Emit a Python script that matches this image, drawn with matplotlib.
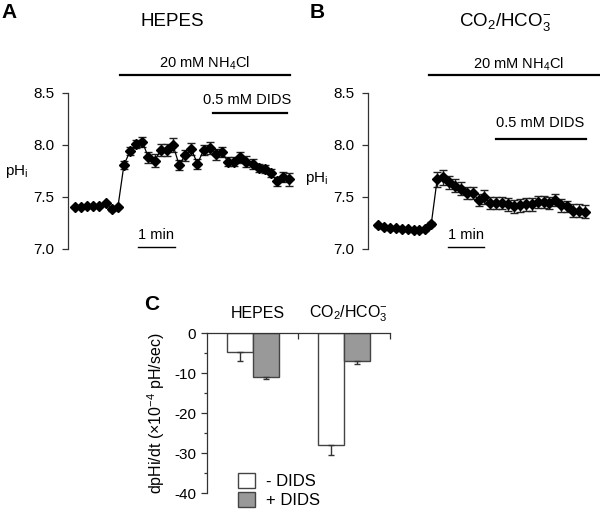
import matplotlib
matplotlib.use("Agg")
import matplotlib.pyplot as plt
from matplotlib.patches import Patch
import numpy as np

plt.rcParams['font.family'] = ['Liberation Sans', 'DejaVu Sans']
plt.rcParams['mathtext.fontset'] = 'custom'
plt.rcParams['mathtext.rm'] = 'Liberation Sans'
plt.rcParams['mathtext.it'] = 'Liberation Sans:italic'
plt.rcParams['mathtext.default'] = 'regular'
plt.rcParams['axes.unicode_minus'] = False

# ---------------- data ----------------
# Panel A: HEPES, pHi vs. time (10 s per point)
ph_hepes = [7.40, 7.40, 7.41, 7.41, 7.41, 7.44, 7.38, 7.40,
            7.81, 7.94, 8.01, 8.03, 7.88, 7.85, 7.95, 7.95, 8.00, 7.81,
            7.90, 7.96, 7.82, 7.95, 7.97, 7.91, 7.93, 7.84, 7.84, 7.88,
            7.84, 7.82, 7.78, 7.77, 7.73, 7.65, 7.69, 7.67]
err_hepes = [0.01, 0.01, 0.01, 0.01, 0.01, 0.01, 0.01, 0.01,
             0.04, 0.04, 0.04, 0.05, 0.05, 0.06, 0.06, 0.06, 0.07, 0.05,
             0.05, 0.06, 0.05, 0.05, 0.06, 0.05, 0.05, 0.04, 0.04, 0.05,
             0.05, 0.05, 0.04, 0.04, 0.04, 0.04, 0.05, 0.06]
# Panel B: CO2/HCO3-
ph_co2 = [7.23, 7.21, 7.20, 7.20, 7.19, 7.19, 7.18, 7.18, 7.19, 7.24,
          7.67, 7.69, 7.64, 7.61, 7.58, 7.54, 7.54, 7.47, 7.50, 7.44,
          7.44, 7.44, 7.43, 7.41, 7.42, 7.43, 7.43, 7.45, 7.45, 7.44,
          7.47, 7.42, 7.41, 7.37, 7.37, 7.36]
err_co2 = [0.015, 0.015, 0.015, 0.015, 0.015, 0.015, 0.015, 0.015, 0.015, 0.02,
           0.07, 0.07, 0.06, 0.06, 0.06, 0.06, 0.06, 0.06, 0.07, 0.06,
           0.06, 0.06, 0.06, 0.06, 0.06, 0.06, 0.06, 0.06, 0.06, 0.06,
           0.06, 0.06, 0.05, 0.06, 0.06, 0.06]

# treatment periods (in sample index units)
nh4_hepes = [7.3, 35.1]
dids_hepes = [22.5, 34.7]
scale_hepes = [10.3, 16.3]
nh4_co2 = [8.6, 37.6]
dids_co2 = [20.0, 35.1]
scale_co2 = [11.9, 17.9]

# Panel C: dpHi/dt (x10^-4 pH/sec)
groups = ['HEPES', 'CO$_2$/HCO$_3^{-}$']
rate_minus = [-4.7, -27.9]
rate_minus_err = [2.3, 2.5]
rate_plus = [-10.9, -7.0]
rate_plus_err = [0.6, 0.8]
legend_labels = ['- DIDS', '+ DIDS']

W, H = 600, 511
fig = plt.figure(figsize=(W / 100, H / 100), dpi=100)


def rect(x0, y0, x1, y1):
    return [x0 / W, 1 - y1 / H, (x1 - x0) / W, (y1 - y0) / H]


def trace_panel(ax, ph, err, xlim):
    x = np.arange(len(ph))
    ax.errorbar(x, ph, yerr=err, fmt='-D', color='black', ms=5.5, lw=0.9,
                elinewidth=1.0, capsize=2.8, capthick=1.0, ecolor='#222222')
    ax.set_xlim(*xlim)
    ax.set_ylim(7.0, 8.5)
    ax.set_yticks([7.0, 7.5, 8.0, 8.5])
    ax.set_yticklabels(['7.0', '7.5', '8.0', '8.5'])
    for s in ['top', 'right', 'bottom']:
        ax.spines[s].set_visible(False)
    ax.spines['left'].set_linewidth(0.9)
    ax.spines['left'].set_color('#333333')
    ax.set_xticks([])
    ax.tick_params(axis='y', direction='out', length=4, width=0.9, labelsize=11,
                   pad=6, color='#333333')


def annotate(ax, nh4, nh4_y, nh4_ty, nh4_tx, dids, dids_y, dids_ty, dids_tx, scale):
    ax.plot(nh4, [nh4_y, nh4_y], color='black', lw=1.6, clip_on=False)
    ax.text(nh4_tx, nh4_ty, '20 mM NH$_4$Cl', ha='center', va='center', fontsize=10.5)
    ax.plot(dids, [dids_y, dids_y], color='black', lw=1.6, clip_on=False)
    ax.text(dids_tx, dids_ty, '0.5 mM DIDS', ha='center', va='center', fontsize=10.5)
    ax.plot(scale, [7.02, 7.02], color='black', lw=1.0, clip_on=False)
    ax.text(np.mean(scale), 7.13, '1 min', ha='center', va='center', fontsize=10.5)


# ---------- Panel A ----------
axA = fig.add_axes(rect(68, 93, 295, 249))
trace_panel(axA, ph_hepes, err_hepes, (-1.14, 35.93))
annotate(axA, nh4_hepes, 8.67, 8.79, 21.2, dids_hepes, 8.31, 8.43, 28.1, scale_hepes)
axA.text(-0.225, 0.5, 'pH$_i$', transform=axA.transAxes, ha='center', va='center', fontsize=11)

# ---------- Panel B ----------
axB = fig.add_axes(rect(368, 93, 595, 249))
trace_panel(axB, ph_co2, err_co2, (-1.7, 36.7))
annotate(axB, nh4_co2, 8.67, 8.78, 23.7, dids_co2, 8.06, 8.21, 27.5, scale_co2)
axB.text(-0.225, 0.45, 'pH$_i$', transform=axB.transAxes, ha='center', va='center', fontsize=11)

# titles and panel letters
fig.text(172 / W, 1 - 22 / H, 'HEPES', ha='center', va='center', fontsize=13.5)
fig.text(505 / W, 1 - 22 / H, 'CO$_2$/HCO$_3^{-}$', ha='center', va='center', fontsize=13.5)
fig.text(9 / W, 1 - 12 / H, 'A', ha='center', va='center', fontsize=15, fontweight='bold')
fig.text(317 / W, 1 - 12 / H, 'B', ha='center', va='center', fontsize=15, fontweight='bold')
fig.text(152 / W, 1 - 304 / H, 'C', ha='center', va='center', fontsize=15, fontweight='bold')

# ---------- Panel C ----------
axC = fig.add_axes(rect(207, 333, 390, 493))
centers = np.array([0.5, 1.5])
bw = 0.285
ekw = dict(elinewidth=1.0, capthick=1.0, ecolor='#333333')
axC.bar(centers - bw / 2, rate_minus, width=bw, color='white', edgecolor='#444444', lw=1.0,
        yerr=[rate_minus_err, [0, 0]], capsize=2, error_kw=ekw)
axC.bar(centers + bw / 2, rate_plus, width=bw, color='#999999', edgecolor='#444444', lw=1.0,
        yerr=[rate_plus_err, [0, 0]], capsize=2, error_kw=ekw)
axC.set_xlim(0, 2)
axC.set_ylim(-40, 0)
for s in ['right', 'bottom']:
    axC.spines[s].set_visible(False)
for s in ['left', 'top']:
    axC.spines[s].set_linewidth(0.9)
    axC.spines[s].set_color('#333333')
axC.xaxis.tick_top()
axC.set_xticks([1, 2])
axC.set_xticklabels([])
axC.tick_params(axis='x', direction='in', length=4, width=0.9, color='#333333')
axC.set_yticks([0, -10, -20, -30, -40])
axC.set_yticks([-5, -15, -25, -35], minor=True)
axC.tick_params(axis='y', which='major', direction='out', length=4, width=0.9, labelsize=11,
                color='#333333', pad=4)
axC.tick_params(axis='y', which='minor', direction='out', length=2.5, width=0.9, color='#333333')
for c, g in zip(centers, groups):
    axC.text(c + 0.05, 1.12, g, transform=axC.get_xaxis_transform(), ha='center', va='center', fontsize=11.5)
axC.set_ylabel('dpHi/dt (×10$^{-4}$ pH/sec)', fontsize=11.5, labelpad=5)
handles = [Patch(facecolor='white', edgecolor='#444444', lw=1.0),
           Patch(facecolor='#999999', edgecolor='#444444', lw=1.0)]
fig.legend(handles, legend_labels, loc='upper left', bbox_to_anchor=(238 / W, 1 - 473 / H),
           frameon=False, fontsize=12, handlelength=1.0, handleheight=1.0,
           handletextpad=0.7, labelspacing=0.15, borderpad=0, borderaxespad=0)

fig.savefig('out.png', dpi=100)
